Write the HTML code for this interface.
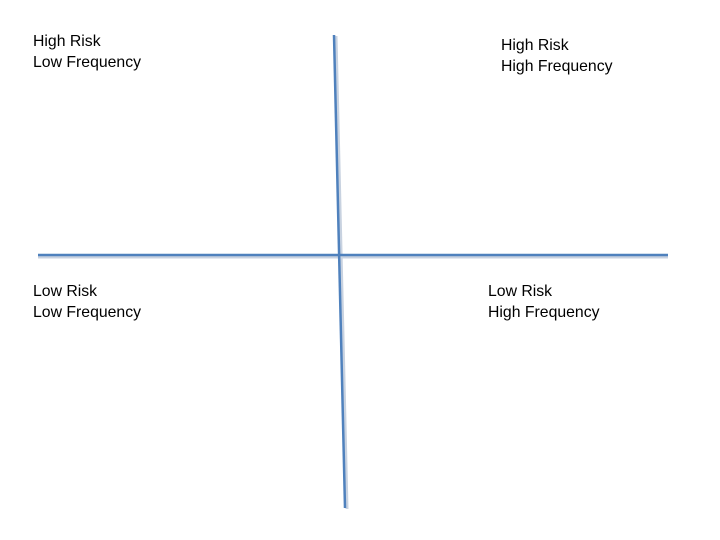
<!DOCTYPE html>
<html><head><style>
body{margin:0;width:720px;height:540px;background:#fff;position:relative;overflow:hidden;font-family:"Liberation Sans",sans-serif;font-size:15.8px;color:#000}
.t{position:absolute;line-height:21px}
</style></head><body>
<svg width="720" height="540" style="position:absolute;left:0;top:0">
<line x1="38" y1="257" x2="668" y2="257" stroke="#c8d2e0" stroke-width="3"/>
<line x1="336" y1="36" x2="347" y2="509" stroke="#c8d2e0" stroke-width="3"/>
<line x1="38" y1="255" x2="668" y2="255" stroke="#4f81bd" stroke-width="2.5"/>
<line x1="334" y1="35" x2="345" y2="508" stroke="#4f81bd" stroke-width="2.5"/>
</svg>
<div class="t" style="left:33px;top:31px">High Risk<br>Low Frequency</div>
<div class="t" style="left:501px;top:35px">High Risk<br>High Frequency</div>
<div class="t" style="left:33px;top:281px">Low Risk<br>Low Frequency</div>
<div class="t" style="left:488px;top:281px">Low Risk<br>High Frequency</div>
</body></html>
